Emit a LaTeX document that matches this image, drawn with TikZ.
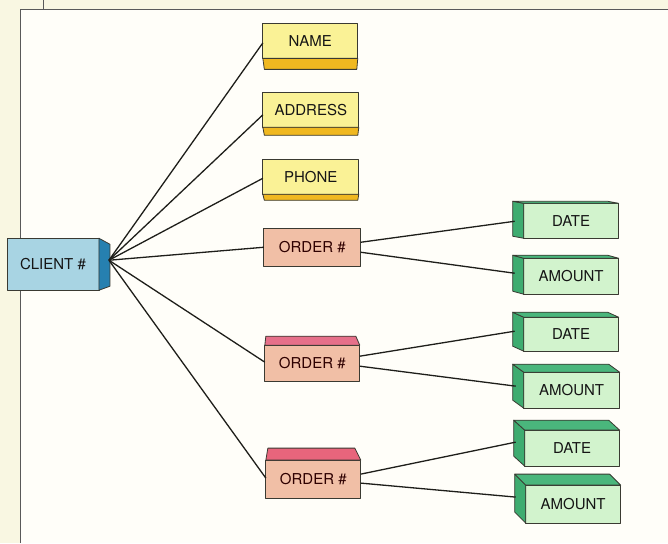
\documentclass[tikz,border=0pt]{standalone}
\usepackage{fontspec}
\setmainfont{TeX Gyre Heros}
\definecolor{yfront}{HTML}{FAF296}
\definecolor{yside}{HTML}{F0B820}
\definecolor{cfront}{HTML}{A8D4E3}
\definecolor{cside}{HTML}{2680B0}
\definecolor{ofront}{HTML}{F1BFA6}
\definecolor{otop}{HTML}{E6708A}
\definecolor{gfront}{HTML}{D2F3CD}
\definecolor{gside}{HTML}{3EAC70}
\definecolor{gtopc}{HTML}{4AB67C}
\definecolor{edgec}{HTML}{3A3A32}
\definecolor{linec}{HTML}{1E1E1A}
\definecolor{pagec}{HTML}{F9F7E2}
\definecolor{innerc}{HTML}{FFFEF9}
\definecolor{txtc}{HTML}{151515}
\newcommand{\GreenFaces}[2]{%
  \draw[face,fill=gside] (#1.north west) -- ++(-11,-#2) -- ([shift={(-11,-#2)}]#1.south west) -- (#1.south west) -- cycle;
  \draw[face,fill=gtopc] (#1.north west) -- ++(-11,-#2) -- ([shift={(-11,-#2)}]#1.north east) -- (#1.north east) -- cycle;}
\newcommand{\YellowFace}[2]{%
  \draw[face,fill=yside] (#1.south west) -- (#1.south east) -- ([shift={(-1,#2)}]#1.south east) -- ([shift={(1.5,#2)}]#1.south west) -- cycle;}
\begin{document}
\begin{tikzpicture}[x=1bp,y=-1bp,
  face/.style={draw=edgec,line width=0.8bp,line join=round},
  box/.style={face,rectangle,inner sep=0pt,outer sep=0pt,text=txtc,
    font=\fontsize{15bp}{18bp}\selectfont},
  ybox/.style={box,fill=yfront},
  cbox/.style={box,fill=cfront},
  obox/.style={box,fill=ofront,text=black!70!red!60!black},
  gbox/.style={box,fill=gfront},
  link/.style={draw=linec,line width=1.3bp},
  frame/.style={draw=black!65,line width=0.8bp}]
% page
\fill[pagec] (0,0) rectangle (668,543);
\fill[innerc] (20,9) rectangle (668,543);
\draw[frame] (20,543) -- (20,9) -- (668,9);
\draw[frame] (43,0) -- (43,9);
\useasboundingbox (0,0) rectangle (668,543);
% front faces
\node[cbox,minimum width=92bp,minimum height=52bp] (client) at (53,264) {CLIENT \#};
\node[ybox,minimum width=95bp,minimum height=35bp] (name) at (310.5,40.5) {NAME};
\node[ybox,minimum width=96bp,minimum height=35bp] (address) at (311,109.5) {ADDRESS};
\node[ybox,minimum width=96bp,minimum height=35bp] (phone) at (311,176.5) {PHONE};
\node[obox,minimum width=97bp,minimum height=38bp] (o1) at (312.5,247) {ORDER \#};
\node[obox,minimum width=95bp,minimum height=36bp] (o2) at (312.5,363) {ORDER \#};
\node[obox,minimum width=95bp,minimum height=38bp] (o3) at (313.5,479) {ORDER \#};
\node[gbox,minimum width=95bp,minimum height=35bp] (d1) at (571.5,220.5) {DATE};
\node[gbox,minimum width=95bp,minimum height=36bp] (a1) at (571.5,276) {AMOUNT};
\node[gbox,minimum width=95bp,minimum height=34bp] (d2) at (571.5,334) {DATE};
\node[gbox,minimum width=96bp,minimum height=36bp] (a2) at (572,390) {AMOUNT};
\node[gbox,minimum width=95bp,minimum height=36bp] (d3) at (572.5,448) {DATE};
\node[gbox,minimum width=95bp,minimum height=38bp] (a3) at (573.5,504) {AMOUNT};
% side faces
\draw[face,fill=cside] (client.north east) -- ++(11,6) -- ([shift={(11,-4)}]client.south east) -- (client.south east) -- cycle;
\YellowFace{name}{11}
\YellowFace{address}{8}
\YellowFace{phone}{6}
\draw[face,fill=otop] (o2.north west) -- ++(1,-9) -- ([shift={(-4,-9)}]o2.north east) -- (o2.north east) -- cycle;
\draw[face,fill=otop!90!red] (o3.north west) -- ++(2,-12) -- ([shift={(-6,-12)}]o3.north east) -- (o3.north east) -- cycle;
\GreenFaces{d1}{2}
\GreenFaces{a1}{3}
\GreenFaces{d2}{5}
\GreenFaces{a2}{8}
\GreenFaces{d3}{10}
\GreenFaces{a3}{11}
% connectors
\coordinate (hub) at ([shift={(10,-4)}]client.east);
\draw[link] (hub) -- ([yshift=-2bp]name.west);
\draw[link] (hub) -- ([yshift=-5bp]address.west);
\draw[link] (hub) -- ([yshift=-1.5bp]phone.west);
\draw[link] (hub) -- (o1.west);
\draw[link] (hub) -- ([yshift=1bp]o2.west);
\draw[link] (hub) -- ([yshift=1bp]o3.west);
\draw[link] ([shift={(0,-5)}]o1.east) -- ([shift={(-9,0.5)}]d1.west);
\draw[link] ([shift={(0,5)}]o1.east) -- ([shift={(-9,-3)}]a1.west);
\draw[link] ([shift={(0,-7)}]o2.east) -- ([shift={(-9,-3)}]d2.west);
\draw[link] ([shift={(0,3)}]o2.east) -- ([shift={(-8,-4)}]a2.west);
\draw[link] ([shift={(0,-5)}]o3.east) -- ([shift={(-9,-6)}]d3.west);
\draw[link] ([shift={(0,4)}]o3.east) -- ([shift={(-10,-7)}]a3.west);
\end{tikzpicture}
\end{document}
